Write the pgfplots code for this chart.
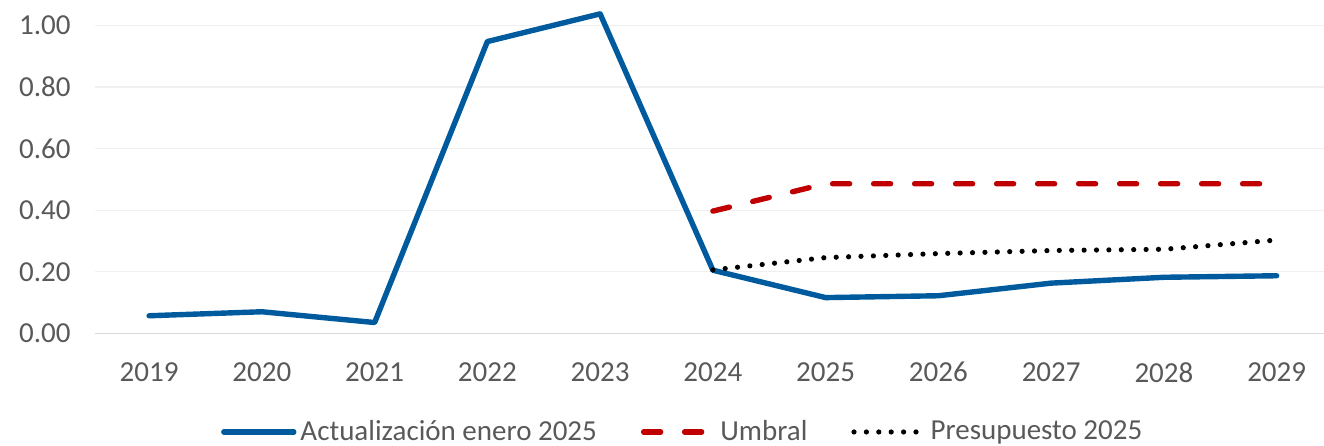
\documentclass[border=0pt]{standalone}
\usepackage{fontspec}
\setmainfont{Carlito}
\usepackage{pgfplots}
\pgfplotsset{compat=1.18}

\definecolor{serieblue}{RGB}{0,91,158}
\definecolor{seriered}{RGB}{192,0,0}
\definecolor{tickgray}{RGB}{89,89,89}
\definecolor{gridgray}{RGB}{240,240,240}
\definecolor{basegray}{RGB}{217,217,217}

\begin{document}
\begin{tikzpicture}
\begin{axis}[
  name=ax,
  scale only axis,
  width=614.5pt, height=166.65pt,
  xmin=-0.48, xmax=10.42,
  ymin=0, ymax=1.083,
  xtick={0,...,10},
  xticklabels={2019,2020,2021,2022,2023,2024,2025,2026,2027,2028,2029},
  ytick={0.2,0.4,0.6,0.8,1.0},
  extra y ticks={0},
  extra y tick style={grid style={draw=basegray, line width=0.8pt}},
  ymajorgrids,
  grid style={draw=gridgray, line width=0.6pt},
  major tick length=0pt,
  axis line style={draw=none},
  /pgf/number format/assume math mode=true,
  yticklabel style={/pgf/number format/fixed, /pgf/number format/fixed zerofill, /pgf/number format/precision=2, xshift=-8.7pt},
  ticklabel style={font=\fontsize{14.5}{17}\selectfont, text=tickgray},
  xticklabel style={yshift=-11pt},
  legend columns=3,
  legend style={
    draw=none, fill=none,
    at={(0.479,-0.296)}, anchor=center,
    font=\fontsize{14.5}{17}\selectfont, text=tickgray,
    /tikz/every even column/.append style={column sep=20pt},
  },
  legend image code/.code={\draw[#1] (0pt,0pt) -- (35pt,0pt);},
  line join=round,
]
% Actualización enero 2025
\addplot[serieblue, line width=2.7pt, line cap=round] coordinates {
  (0,0.057) (1,0.070) (2,0.035) (3,0.948) (4,1.038) (5,0.205)
  (6,0.116) (7,0.122) (8,0.163) (9,0.182) (10,0.187)
};
\addlegendentry{Actualización enero 2025}
% Umbral
\addplot[seriered, line width=2.7pt, line cap=round, dash pattern=on 8.5pt off 12pt] coordinates {
  (5,0.397) (6,0.486) (7,0.486) (8,0.486) (9,0.486) (10,0.486)
};
\addlegendentry{Umbral}
% Presupuesto 2025
\addplot[black, line width=2.6pt, line cap=round, dash pattern=on 0pt off 6.2pt] coordinates {
  (5,0.206) (6,0.246) (7,0.259) (8,0.269) (9,0.273) (10,0.303)
};
\addlegendentry{Presupuesto 2025}
\end{axis}
\pgfresetboundingbox
\path ([shift={(-47.5pt,-55.85pt)}]ax.south west) rectangle (ax.north east);
\end{tikzpicture}
\end{document}
